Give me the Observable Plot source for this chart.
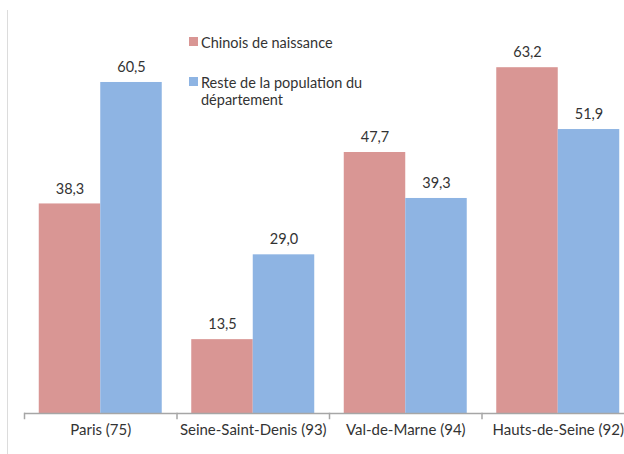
<!DOCTYPE html>
<html>
<head>
<meta charset="utf-8">
<script src="https://cdn.jsdelivr.net/npm/d3@7"></script>
<script src="https://cdn.jsdelivr.net/npm/@observablehq/plot@0.6"></script>
<style>
  html, body { margin: 0; padding: 0; background: #fff; overflow: hidden; }
  #wrap { position: relative; width: 624px; height: 454px; overflow: hidden; font-family: Lato, "Open Sans", sans-serif; color: #333; }
  #border { position: absolute; left: 7px; top: 10px; width: 1px; height: 444px; background: #dcdcdc; }
  #legend { position: absolute; left: 189px; top: 34px; font-size: 14.5px; line-height: 17px; }
  .item { position: relative; padding-left: 12px; margin-bottom: 23px; width: 175px; }
  .sw { position: absolute; left: 0; top: 3px; width: 9px; height: 9px; }
  #chart { position: absolute; left: 0; top: 0; width: 640px; }
  #chart svg { max-width: none !important; }
</style>
</head>
<body>
<div id="wrap">
  <div id="border"></div>
  <div id="chart"></div>
  <div id="legend"></div>
</div>
<script>
const departements = ["Paris (75)", "Seine-Saint-Denis (93)", "Val-de-Marne (94)", "Hauts-de-Seine (92)"];
const series = ["Chinois de naissance", "Reste de la population du département"];
const chinois = [38.3, 13.5, 47.7, 63.2];
const reste = [60.5, 29.0, 39.3, 51.9];
const colors = ["#d99694", "#8eb4e3"];

const data = [];
departements.forEach((d, i) => {
  data.push({dep: d, serie: series[0], value: chinois[i]});
  data.push({dep: d, serie: series[1], value: reste[i]});
});
const fmt = v => d3.format(".1f")(v).replace(".", ",");

const chart = Plot.plot({
  width: 640,
  height: 454,
  marginLeft: 24,
  marginRight: 6,
  marginTop: 30,
  marginBottom: 41,
  facet: {marginTop: 0, marginRight: 0, marginBottom: 0, marginLeft: 0},
  style: {fontFamily: "Lato, 'Open Sans', sans-serif", fontSize: "14px", color: "#333", background: "transparent", overflow: "visible", maxWidth: "none"},
  fx: {domain: departements, padding: 0, round: false, axis: null, label: null},
  x: {domain: series, paddingInner: 0, paddingOuter: 0.24, round: false, axis: null},
  y: {domain: [0, 70], axis: null},
  color: {domain: series, range: colors},
  marks: [
    Plot.barY(data, {fx: "dep", x: "serie", y: "value", fill: "serie"}),
    Plot.text(data, {fx: "dep", x: "serie", y: "value", text: d => fmt(d.value), dy: -15, fill: "#333", fontSize: 14.5}),
    Plot.ruleY([0], {stroke: "#a6a6a6", strokeWidth: 1.5}),
    Plot.frame({anchor: "left", stroke: "#a6a6a6", strokeWidth: 1.5, insetTop: 383, insetBottom: -5}),
    Plot.text(departements, {fx: d => d, text: d => d, frameAnchor: "bottom", dy: 21, fill: "#333", fontSize: 15})
  ]
});
document.getElementById("chart").appendChild(chart);

const legend = document.getElementById("legend");
series.forEach((s, i) => {
  const it = document.createElement("div");
  it.className = "item";
  const sw = document.createElement("span");
  sw.className = "sw";
  sw.style.background = colors[i];
  it.appendChild(sw);
  it.appendChild(document.createTextNode(s));
  legend.appendChild(it);
});
</script>
</body>
</html>
